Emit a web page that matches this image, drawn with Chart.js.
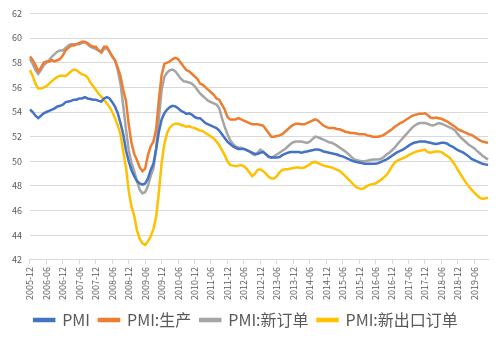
<!DOCTYPE html>
<html>
<head>
<meta charset="utf-8">
<script src="https://cdn.jsdelivr.net/npm/chart.js@4.4.0/dist/chart.umd.min.js"></script>
<style>
  html, body { margin: 0; padding: 0; background: #fff; }
</style>
</head>
<body>
<canvas id="chart" width="500" height="342"></canvas>
<script>
// monthly, 2005-12 .. 2019-11 (12-month smoothed PMI readings)
const startYear = 2005, startMonth = 12, monthCount = 168;
const months = [];
for (let i = 0; i < monthCount; i++) {
  const m = startMonth - 1 + i;
  const y = startYear + Math.floor(m / 12);
  months.push(y + "-" + String((m % 12) + 1).padStart(2, "0"));
}

const seriesNames = ["PMI", "PMI:生产", "PMI:新订单", "PMI:新出口订单"];
const yTicks = [42, 44, 46, 48, 50, 52, 54, 56, 58, 60, 62];

const pmi = [
  54.2, 54.0, 53.7, 53.5, 53.7, 53.9, 54.0, 54.1, 54.2, 54.3, 54.45, 54.5,
  54.6, 54.8, 54.85, 54.9, 55.0, 55.0, 55.1, 55.1, 55.2, 55.1, 55.05, 55.0,
  55.0, 54.9, 54.85, 55.1, 55.2, 55.1, 54.8, 54.45, 53.9, 53.1, 52.2, 50.9,
  50.0, 49.3, 48.8, 48.4, 48.2, 48.1, 48.2, 48.6, 49.3, 49.8, 51.0, 52.4,
  53.4, 53.9, 54.2, 54.4, 54.5, 54.45, 54.3, 54.1, 54.0, 53.85, 53.9, 53.8,
  53.6, 53.5, 53.5, 53.3, 53.1, 53.0, 52.9, 52.8, 52.7, 52.5, 52.2, 51.9,
  51.6, 51.4, 51.2, 51.1, 51.0, 51.0, 51.0, 50.9, 50.8, 50.7, 50.6, 50.6,
  50.7, 50.75, 50.6, 50.4, 50.3, 50.3, 50.3, 50.35, 50.5, 50.6, 50.7, 50.75,
  50.75, 50.75, 50.75, 50.7, 50.75, 50.8, 50.85, 50.9, 50.95, 50.95, 50.9, 50.8,
  50.75, 50.7, 50.65, 50.6, 50.55, 50.45, 50.4, 50.3, 50.2, 50.1, 50.0, 49.95,
  49.9, 49.85, 49.8, 49.8, 49.8, 49.8, 49.8, 49.85, 49.95, 50.05, 50.15, 50.3,
  50.45, 50.6, 50.75, 50.85, 50.95, 51.1, 51.25, 51.4, 51.5, 51.55, 51.6, 51.6,
  51.6, 51.55, 51.5, 51.45, 51.4, 51.45, 51.5, 51.5, 51.45, 51.3, 51.2, 51.05,
  50.9, 50.8, 50.7, 50.55, 50.4, 50.2, 50.1, 50.0, 49.9, 49.8, 49.75, 49.7
];

const production = [
  58.5, 58.2, 57.8, 57.3, 57.6, 58.0, 58.1, 58.1, 58.2, 58.1, 58.2, 58.3,
  58.6, 59.0, 59.2, 59.4, 59.4, 59.5, 59.6, 59.7, 59.7, 59.6, 59.4, 59.3,
  59.3, 59.0, 58.9, 59.3, 59.3, 58.9, 58.5, 58.2, 57.6, 56.9, 55.8, 54.9,
  53.0, 51.5, 50.6, 50.1, 49.5, 49.2, 49.4, 50.5, 51.2, 51.6, 52.6, 55.0,
  57.0, 57.9, 58.0, 58.1, 58.3, 58.4, 58.3, 58.0, 57.7, 57.4, 57.3, 57.1,
  56.9, 56.7, 56.3, 56.2, 56.0, 55.8, 55.6, 55.4, 55.1, 55.0, 54.6, 54.2,
  53.6, 53.4, 53.4, 53.4, 53.5, 53.4, 53.3, 53.2, 53.1, 53.0, 53.0, 53.0,
  52.95, 52.9, 52.6, 52.3, 52.0, 52.0, 52.05, 52.1, 52.2, 52.4, 52.6, 52.8,
  52.95, 53.05, 53.05, 53.0, 53.0, 53.1, 53.2, 53.3, 53.4, 53.3, 53.1, 52.9,
  52.8, 52.7, 52.7, 52.7, 52.6, 52.6, 52.5, 52.4, 52.35, 52.3, 52.3, 52.25,
  52.2, 52.2, 52.2, 52.1, 52.05, 52.0, 52.0, 52.0, 52.05, 52.15, 52.3, 52.45,
  52.6, 52.8, 52.95, 53.1, 53.2, 53.35, 53.5, 53.65, 53.75, 53.8, 53.85, 53.85,
  53.9, 53.75, 53.55, 53.5, 53.55, 53.5, 53.45, 53.35, 53.25, 53.1, 52.95, 52.8,
  52.6, 52.5, 52.4, 52.3, 52.2, 52.15, 52.0, 51.85, 51.7, 51.6, 51.55, 51.5
];

const newOrders = [
  58.3, 57.9, 57.4, 57.1, 57.4, 57.8, 58.0, 58.2, 58.5, 58.7, 58.9, 59.0,
  59.0, 59.2, 59.4, 59.5, 59.5, 59.5, 59.5, 59.6, 59.65, 59.5, 59.3, 59.2,
  59.1, 59.0, 58.8, 59.1, 59.2, 58.9, 58.5, 58.2, 57.4, 56.3, 54.5, 52.6,
  50.9, 49.9, 49.2, 48.4, 47.7, 47.4, 47.5, 48.0, 48.8, 49.4, 51.0, 53.5,
  55.8, 56.85, 57.2, 57.4, 57.45, 57.3, 57.0, 56.7, 56.5, 56.45, 56.4, 56.3,
  56.1, 55.8, 55.5, 55.3, 55.1, 54.9, 54.8, 54.7, 54.6, 54.3, 53.5, 52.8,
  52.2, 51.7, 51.4, 51.2, 51.1, 51.1, 51.0, 50.9, 50.8, 50.6, 50.5, 50.7,
  50.95, 50.8, 50.55, 50.35, 50.3, 50.4, 50.55, 50.7, 50.85, 51.0, 51.2, 51.4,
  51.55, 51.6, 51.6, 51.6, 51.55, 51.5, 51.6, 51.8, 52.0, 51.95, 51.85, 51.75,
  51.65, 51.55, 51.5, 51.4, 51.25, 51.1, 50.95, 50.8, 50.6, 50.4, 50.2, 50.1,
  50.05, 50.0, 50.0, 50.05, 50.1, 50.15, 50.15, 50.15, 50.2, 50.35, 50.55, 50.7,
  50.9, 51.1, 51.4, 51.65, 51.9, 52.15, 52.4, 52.65, 52.85, 53.0, 53.1, 53.1,
  53.1, 53.05, 52.95, 52.9, 53.0, 53.1, 53.05, 52.95, 52.85, 52.75, 52.65, 52.5,
  52.2, 51.95, 51.75, 51.55, 51.35, 51.2, 51.05, 50.85, 50.65, 50.45, 50.3, 50.15
];

const newExportOrders = [
  57.4, 56.9, 56.3, 55.9, 55.9, 56.0, 56.1, 56.3, 56.5, 56.7, 56.85, 56.95,
  56.95, 56.9, 57.1, 57.3, 57.45, 57.4, 57.2, 57.05, 57.0, 56.8, 56.4, 56.1,
  55.8, 55.5, 55.25, 55.0, 54.7, 54.4, 54.0, 53.5, 52.9, 52.2, 50.8, 49.5,
  47.6, 46.3, 45.6, 44.4, 43.7, 43.35, 43.2, 43.5, 43.9, 44.5, 45.5, 47.5,
  49.9, 51.4, 52.3, 52.75, 52.95, 53.05, 53.05, 52.95, 52.9, 52.8, 52.85, 52.75,
  52.7, 52.6, 52.5, 52.45, 52.3, 52.15, 52.0, 51.85, 51.6, 51.3, 50.9, 50.5,
  50.0, 49.7, 49.65, 49.6, 49.65, 49.7, 49.6, 49.4, 49.1, 48.8, 49.0, 49.3,
  49.35, 49.2, 49.0, 48.75, 48.6, 48.6, 48.8, 49.1, 49.3, 49.35, 49.35, 49.4,
  49.45, 49.5, 49.5, 49.45, 49.5, 49.6, 49.75, 49.9, 49.95, 49.85, 49.75, 49.65,
  49.6, 49.55, 49.5, 49.4, 49.3, 49.2, 49.0, 48.8, 48.55, 48.35, 48.1, 47.9,
  47.8, 47.75, 47.85, 48.0, 48.1, 48.15, 48.2, 48.35, 48.5, 48.7, 48.9, 49.2,
  49.6, 49.9, 50.05, 50.15, 50.25, 50.35, 50.5, 50.6, 50.7, 50.8, 50.85, 50.9,
  50.95, 50.75, 50.7, 50.75, 50.8, 50.8, 50.75, 50.6, 50.45, 50.3, 50.0, 49.7,
  49.3, 48.95, 48.6, 48.25, 47.95, 47.7, 47.45, 47.25, 47.05, 46.95, 47.0, 47.05
];

const colors = ["#4472C4", "#ED7D31", "#A5A5A5", "#FFC000"];
const allSeries = [pmi, production, newOrders, newExportOrders];

Chart.defaults.font.family = '"Noto Sans CJK SC", "Liberation Sans", sans-serif';
Chart.defaults.color = "#595959";

new Chart(document.getElementById("chart"), {
  type: "line",
  data: {
    labels: months,
    datasets: allSeries.map((d, i) => ({
      label: seriesNames[i],
      data: d,
      borderColor: colors[i],
      backgroundColor: colors[i],
      borderWidth: 2.5,
      pointRadius: 0,
      tension: 0,
    })),
  },
  options: {
    responsive: false,
    animation: false,
    layout: { padding: { left: 4, right: 12, top: 5, bottom: 4 } },
    scales: {
      x: {
        offset: false,
        grid: {
          drawOnChartArea: false,
          drawTicks: true,
          tickLength: 4,
          color: "#d9d9d9",
        },
        border: { color: "#d9d9d9" },
        ticks: {
          autoSkip: false,
          maxRotation: 90,
          minRotation: 90,
          padding: 3,
          font: { size: 9 },
          callback: (v, i) => (i % 6 === 0 ? months[i] : null),
        },
      },
      y: {
        min: yTicks[0],
        max: yTicks[yTicks.length - 1],
        afterBuildTicks: (s) => { s.ticks = yTicks.map((v) => ({ value: v })); },
        grid: { color: "#d9d9d9", drawTicks: false },
        border: { display: false },
        ticks: { padding: 8, font: { size: 9 } },
      },
    },
    plugins: {
      legend: {
        position: "bottom",
        labels: {
          boxWidth: 20,
          boxHeight: 2,
          padding: 9,
          color: "#595959",
          font: { size: 16 },
        },
      },
      tooltip: { enabled: false },
    },
  },
});
</script>
</body>
</html>
